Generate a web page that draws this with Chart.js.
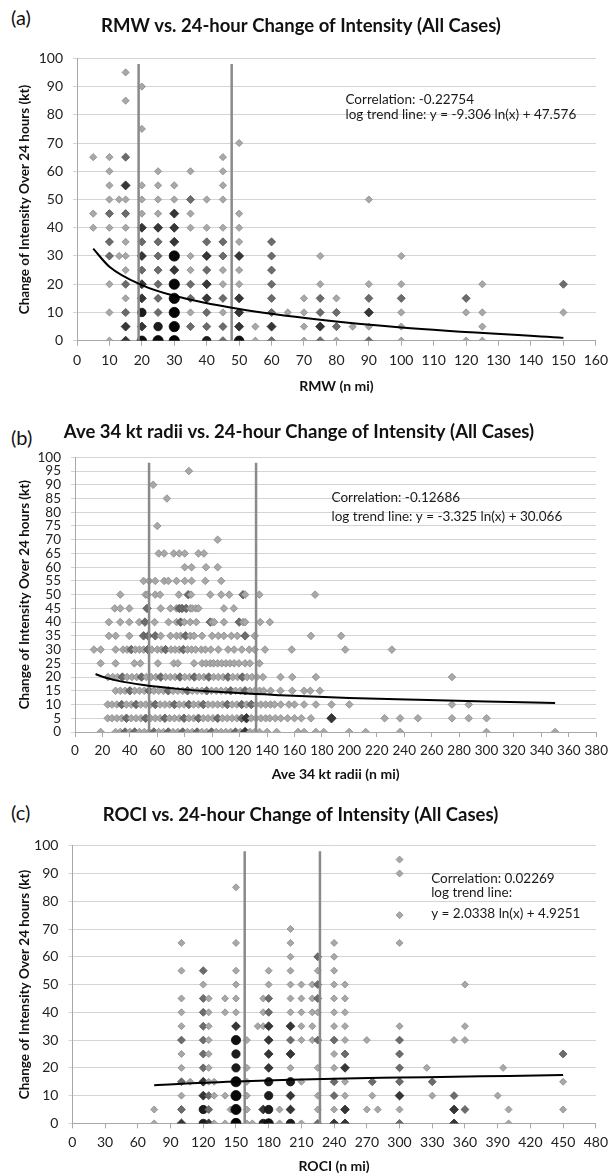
<!DOCTYPE html>
<html>
<head>
<meta charset="utf-8">
<script src="https://cdn.jsdelivr.net/npm/chart.js@4.4.1/dist/chart.umd.min.js"></script>
<style>
  body { margin: 0; background: #fff; width: 614px; height: 1175px; position: relative; overflow: hidden; font-family: Lato, sans-serif; }
  .panel { position: absolute; left: 0; width: 614px; }
  .tag { position: absolute; left: 11px; font-size: 20px; line-height: 20px; color: #111; }
</style>
</head>
<body>
<div class="tag" style="top:7px">(a)</div>
<div class="tag" style="top:427px">(b)</div>
<div class="tag" style="top:802px">(c)</div>
<div class="panel" style="top:0;height:400px"><canvas id="rmwChart"></canvas></div>
<div class="panel" style="top:400px;height:390px"><canvas id="radiiChart"></canvas></div>
<div class="panel" style="top:790px;height:385px"><canvas id="rociChart"></canvas></div>
<script>
// rows: [change of intensity, [RMW values]]; [x, n] = n cases stacked on one spot
const rmwRows = [
  [95, [15]],
  [90, [20]],
  [85, [15]],
  [75, [20]],
  [70, [50]],
  [65, [5, 10, [15, 2], 45]],
  [60, [10, 25, 35, 45]],
  [55, [10, [15, 3], 20, 25, 30, 45]],
  [50, [10, 13, 15, 20, 25, 30, [35, 2], 40, 45, 90]],
  [45, [5, [10, 2], [15, 2], 20, 25, [30, 3], 35, 50]],
  [40, [5, 10, 15, [20, 3], [25, 3], [30, 3], 35, 40, 45, 50]],
  [35, [[10, 2], 15, [20, 2], [25, 2], [30, 3], [40, 2], [45, 2], 50, [60, 2]]],
  [30, [[10, 2], 13, 15, [20, 3], [25, 2], [30, 6], 35, [40, 3], [45, 2], [50, 3], [60, 2], 75, 100]],
  [25, [15, [20, 2], [25, 2], [30, 3], 35, [40, 2], 45, 50, [60, 2]]],
  [20, [10, [15, 2], [20, 3], [25, 2], [30, 6], [35, 2], [40, 3], 45, 50, [60, 2], 75, 90, 100, 125, [150, 2]]],
  [15, [15, [20, 3], [25, 2], [30, 6], [35, 2], [40, 3], [45, 2], [50, 3], [60, 2], 70, [75, 2], 80, [90, 2], [100, 2], [120, 2]]],
  [10, [10, [15, 2], [20, 4], [25, 2], [30, 7], 35, [40, 2], 45, [50, 3], [60, 2], 65, 70, [75, 2], [80, 2], [90, 3], 100, 120, 125, 150]],
  [5, [[15, 3], [20, 3], [25, 4], [30, 7], [35, 2], [40, 2], [45, 2], [50, 3], 55, [60, 3], 70, [75, 3], [80, 2], 85, 90, 100, 125]],
  [0, [10, [15, 3], [20, 5], [25, 6], [30, 8], [40, 4], [45, 2], [50, 5], 55, [60, 2], 70, [75, 2], 80, [90, 2], 100, 120, 125]]
];
const rmwTrendX = [5, 10, 20, 30, 50, 75, 100, 150];
const rmwTrendY = [32.6, 26.2, 19.7, 15.9, 11.2, 7.4, 4.7, 1.0];
const rmwLines = [19, 47.7];
const rmwNote = ["Correlation: -0.22754", "log trend line: y = -9.306 ln(x) + 47.576"];

const radiiRows = [
  [95, [83]],
  [90, [57]],
  [85, [67]],
  [75, [60]],
  [70, [104]],
  [65, [61, 65, 72, 76, 80, 90, 94]],
  [60, [80, 85, 95.5, 104]],
  [55, [50, 54, 58.5, 65, 68, 74, 80, 85, 95, 106.6]],
  [50, [33, 51.5, 53, 58.5, 62, 75.7, [82.5, 2], 84.6, 98.6, 106.6, 112.4, [122.5, 2], 124, 134.4, 175]],
  [45, [29, 33, 39.6, [52.5, 2], 62.5, 69.6, 74, [76, 2], [78, 2], [81, 2], 84, 85.4, 88, 90, 108.6, 115.8]],
  [40, [24.7, 33, 39.6, 46.8, [51, 2], 58, 68.2, 74, [77, 2], 79.7, 84, 88.4, [98.6, 2], 100, 101.5, 108.6, [119.7, 2], 122.6, 124, 135, 142]],
  [35, [24.7, 29.6, 39.6, [50, 2], [53.3, 2], [58.5, 2], 62.5, 69.6, 74, 77, [80.6, 2], 84, 86.8, 92.6, 100, 104.5, 108.6, 114, 118.3, [124, 2], 131, 172, 194]],
  [30, [13.8, 18.7, 29.6, 35, 38, [41, 2], 44, 47, 50, [53, 2], 56, 60, 63, [66, 2], 70, 73, 76, [79, 2], 82, 85, 88, 92, 95, 99, 104.5, 111.6, 116, 121.6, 127, 131, 138.5, 158, 197, 231]],
  [25, [18.7, 29.6, 43.3, 47.6, 60.4, 72, 75, 86.8, 92.6, 95.5, 98.6, 101, 104, 107, 110, 113, 116, 119.5, 124, 127.5, 134.5]],
  [20, [24, 27.5, 31, [34.5, 2], 38, 41.5, 45, [48.5, 2], 52, 55.5, 59, [62.5, 2], 66, 69.5, 73, [76.5, 2], 80, 83.5, [87, 2], 90.5, 94, [97.5, 2], 101, 104.5, 108, [111.5, 2], 115, 118.5, [122, 2], 125.5, 129, 132.5, 137, 149.8, 158.4, 175.6, 274.8]],
  [15, [29.6, 33, 36.5, [40, 2], 43.5, 47, 50.5, [54, 2], 57.5, 61, 64.5, [68, 2], 71.5, 75, 78.5, [82, 2], 85.5, 89, 92.5, [96, 2], 99.5, 103, 106.5, 110, [113.5, 2], 117, 120.5, [124, 2], 127.5, 131, 134.5, 137.5, 142.6, 149.8, 158.4, 167, 171.5, 178.5]],
  [10, [23.8, 27, 30.5, [34, 2], 37.5, 41, [44.5, 2], 48, 51.5, 55, [58.5, 2], 62, 65.5, 69, [72.5, 2], 76, 79.5, [83, 2], 86.5, 90, [93.5, 2], 97, 100.5, 104, 107.5, [111, 2], 114.5, 118, [121.5, 2], 125, [128.5, 2], 132, 135.5, 139, 142.5, 145.5, 150, 156, 160, 167, 175.6, 187, 200, 274.8, 287]],
  [5, [23.8, 27, 30.5, 34, [37.5, 2], 41, 44.5, 48, [51.5, 2], 55, 58.5, 62, [65.5, 2], 69, 72.5, 76, [79.5, 2], 83, 86.5, [90, 2], 93.5, 97, 100.5, [104, 2], 107.5, 111, 114.5, 118, [121.5, 2], [125, 3], 128.5, 132, 135.5, 139, 142, 146, 150, 155, 160, 165, 172, [187, 3], 225.7, 237, 250, 274.8, 287, 300]],
  [0, [18.7, 29.6, 33, [36.5, 2], 40, [43.5, 2], 47, 50.5, 54, [57.5, 2], 61, 64.5, [68, 2], 71.5, 75, [78.5, 2], 82, 85.5, [89, 2], 92.5, 96, [99.5, 2], 103, 106.5, 110, 113.5, [117, 2], 120.5, [124, 3], 127.5, 131, 134.5, 140, 147, 162.6, 167, 175.6, 181.3, 199.9, 211.9, 237, 300, 350]]
];
const radiiTrendX = [15, 20, 30, 50, 75, 100, 150, 200, 250, 300, 350];
const radiiTrendY = [21.1, 20.1, 18.8, 17.1, 15.7, 14.7, 13.4, 12.4, 11.7, 11.1, 10.6];
const radiiLines = [54, 132];
const radiiNote = ["Correlation: -0.12686", "log trend line: y = -3.325 ln(x) + 30.066"];

const rociRows = [
  [95, [300]],
  [90, [300]],
  [85, [150]],
  [75, [300]],
  [70, [200]],
  [65, [100, 150, 200, 240, 300]],
  [60, [200, [225, 2], 240]],
  [55, [100, [120, 2], 150, 180, 200, 225, 240]],
  [50, [120, 150, 180, 200, 210, 220, [225, 2], 240, 250, 360]],
  [45, [100, [120, 2], 125, 140, 150, 175, [180, 2], 200, 210, 220, [225, 2], 240, 250]],
  [40, [100, [120, 2], 125, 140, 150, 175, [180, 2], 200, 210, 220, 225, 240, 250]],
  [35, [100, [120, 2], 125, [150, 3], 170, 175, [180, 3], [200, 3], 210, 220, 240, 250, 300, 360]],
  [30, [[100, 2], [120, 2], 125, [150, 5], 160, [180, 3], [200, 2], 210, 220, [225, 2], [240, 2], 250, 270, [300, 2], 350, 360]],
  [25, [100, [120, 2], 125, [150, 4], [180, 3], [200, 3], 240, [250, 2], [300, 2], [450, 2]]],
  [20, [100, [120, 2], 125, [150, 4], 160, [180, 3], 200, 225, 240, [250, 3], [300, 2], 325, 395]],
  [15, [[100, 2], 108, [120, 3], 125, 130, [150, 6], 160, [180, 4], [200, 4], 210, [240, 2], 250, [275, 2], [300, 2], [330, 2], 450]],
  [10, [100, [120, 3], [125, 2], 130, 140, [150, 6], 160, [180, 4], [200, 3], 225, [240, 2], 250, 275, [300, 3], 330, [350, 2], 390]],
  [5, [75, [100, 2], [120, 4], [125, 2], 145, [150, 6], 160, [175, 3], [180, 4], 190, [200, 3], 225, 240, [250, 3], 270, 280, 300, [350, 3], [360, 2], 400, 450]],
  [0, [75, [100, 3], [120, 4], [125, 3], 130, 140, [150, 7], 160, 165, [175, 4], [180, 5], 190, [200, 4], 210, [225, 2], [240, 3], [250, 3], [300, 2], [350, 3], 400]]
];
const rociTrendX = [75, 100, 150, 200, 250, 300, 350, 400, 450];
const rociTrendY = [13.7, 14.3, 15.1, 15.7, 16.2, 16.5, 16.8, 17.1, 17.4];
const rociLines = [158, 227];
const rociNote = ["Correlation: 0.02269", "log trend line:", "y = 2.0338 ln(x) + 4.9251"];

Chart.defaults.font.family = "Lato, 'Open Sans', sans-serif";
Chart.defaults.animation = false;

const fills = ["#a8a8a8", "#6c6c6c", "#363636", "#1c1c1c", "#101010", "#080808", "#040404", "#000000"];
const edges = ["#8a8a8a", "#555555", "#262626", "#121212", "#080808", "#040404", "#000000", "#000000"];

function level(c) {
  return c.raw && c.raw.n ? Math.min(c.raw.n, 8) - 1 : 0;
}

// draws the correlation text at a data position
const notePlugin = {
  id: "note",
  afterDatasetsDraw(chart, args, opts) {
    const { ctx, scales: { x, y } } = chart;
    ctx.save();
    ctx.font = "13.5px Lato, sans-serif";
    ctx.fillStyle = "#1a1a1a";
    ctx.textBaseline = "middle";
    opts.lines.forEach((t, i) => {
      ctx.fillText(t, x.getPixelForValue(opts.x), y.getPixelForValue(opts.y[i]));
    });
    ctx.restore();
  }
};

function makePanel(id, rows, trendX, trendY, lines, opt) {
  const pts = [];
  rows.forEach(([y, xs]) => xs.forEach(v => {
    const [x, n] = Array.isArray(v) ? v : [v, 1];
    pts.push({ x: x, y: y, n: n });
  }));

  const datasets = [{
    type: "scatter",
    data: pts,
    order: 3,
    // many stacked cases blur into a round dark blob
    pointStyle: c => (level(c) >= 3 ? "circle" : "rectRot"),
    pointRadius: c => (level(c) >= 3 ? opt.r * 0.8 : opt.r) + Math.min(level(c), 5) * 0.45,
    backgroundColor: c => fills[level(c)],
    borderColor: c => edges[level(c)],
    borderWidth: 0.8
  }];
  lines.forEach(v => {
    datasets.push({
      type: "line",
      data: [{ x: v, y: 0 }, { x: v, y: 98 }],
      borderColor: "#8a8a8a",
      borderWidth: 2.5,
      pointRadius: 0,
      order: 2
    });
  });
  datasets.push({
    type: "line",
    data: trendX.map((x, i) => ({ x: x, y: trendY[i] })),
    borderColor: "#000",
    borderWidth: 2,
    pointRadius: 0,
    cubicInterpolationMode: "monotone",
    order: 1
  });

  new Chart(document.getElementById(id), {
    type: "scatter",
    data: { datasets: datasets },
    plugins: [notePlugin],
    options: {
      responsive: true,
      maintainAspectRatio: false,
      layout: { padding: { left: 0, right: opt.right, top: 0, bottom: 0 } },
      plugins: {
        legend: { display: false },
        tooltip: { enabled: false },
        title: {
          display: true,
          text: opt.title,
          color: "#111",
          font: { size: 18.5, weight: "bold" },
          padding: { top: opt.titleTop, bottom: opt.titleBottom }
        },
        note: { x: opt.noteX, y: opt.noteY, lines: opt.note }
      },
      scales: {
        x: {
          type: "linear",
          min: 0,
          max: opt.xMax,
          ticks: { stepSize: opt.xStep, autoSkip: false, maxRotation: 0, padding: 6, color: "#222", font: { size: opt.xFont } },
          grid: { drawOnChartArea: false, tickLength: 5, color: "#a8a8a8" },
          border: { color: "#a8a8a8" },
          title: {
            display: true,
            text: opt.xTitle,
            color: "#111",
            font: { size: 14, weight: "bold" },
            padding: { top: 0, bottom: opt.xTitlePad }
          },
          afterFit: s => { s.height = opt.xH; }
        },
        y: {
          min: 0,
          max: 100,
          ticks: { stepSize: opt.yStep, autoSkip: false, padding: 10, color: "#222", font: { size: opt.yFont } },
          grid: { color: "#d4d4d4", tickLength: 4 },
          border: { color: "#a8a8a8" },
          title: {
            display: true,
            text: "Change of Intensity Over 24 hours (kt)",
            color: "#111",
            font: { size: 13.5, weight: "bold" },
            padding: { top: 17, bottom: 0 }
          },
          afterFit: s => { s.width = opt.yW; }
        }
      }
    }
  });
}

makePanel("rmwChart", rmwRows, rmwTrendX, rmwTrendY, rmwLines, {
  title: "RMW vs. 24-hour Change of Intensity (All Cases)",
  titleTop: 14.9, titleBottom: 21.2, right: 12, yW: 77, xH: 59.3, xTitlePad: 5,
  xMax: 160, xStep: 10, yStep: 10, xFont: 14, yFont: 14, r: 3.6,
  xTitle: "RMW (n mi)", note: rmwNote, noteX: 82.8, noteY: [85.2, 80]
});

makePanel("radiiChart", radiiRows, radiiTrendX, radiiTrendY, radiiLines, {
  title: "Ave 34 kt radii vs. 24-hour Change of Intensity (All Cases)",
  titleTop: 20.9, titleBottom: 14.2, right: 16, yW: 75, xH: 58, xTitlePad: 7,
  xMax: 380, xStep: 20, yStep: 5, xFont: 13.5, yFont: 13.5, r: 3.8,
  xTitle: "Ave 34 kt radii (n mi)", note: radiiNote, noteX: 187, noteY: [85.3, 78.5]
});

makePanel("rociChart", rociRows, rociTrendX, rociTrendY, rociLines, {
  title: "ROCI vs. 24-hour Change of Intensity (All Cases)",
  titleTop: 13.9, titleBottom: 19.6, right: 13, yW: 72.4, xH: 51.6, xTitlePad: 0.5,
  xMax: 480, xStep: 30, yStep: 10, xFont: 14, yFont: 14, r: 3.5,
  xTitle: "ROCI (n mi)", note: rociNote, noteX: 329, noteY: [88, 83, 75.5]
});
</script>
</body>
</html>
